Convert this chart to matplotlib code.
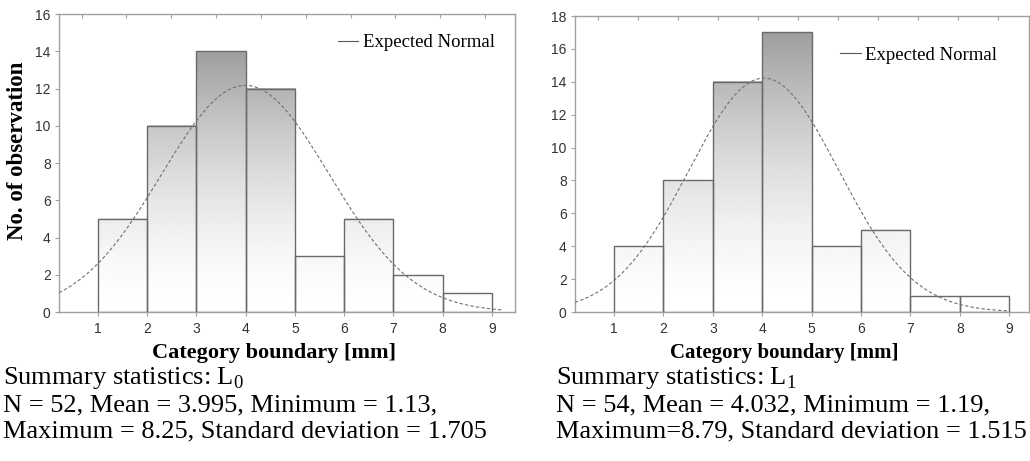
import numpy as np
import matplotlib
matplotlib.use("Agg")
import matplotlib.pyplot as plt
from matplotlib.lines import Line2D

plt.rcParams['mathtext.fontset'] = 'custom'
plt.rcParams['mathtext.rm'] = 'Liberation Serif'

# ---- data ----
bin_left = [1, 2, 3, 4, 5, 6, 7, 8]
counts_L0 = [5, 10, 14, 12, 3, 5, 2, 1]
counts_L1 = [4, 8, 14, 17, 4, 5, 1, 1]
x_ticks = [1, 2, 3, 4, 5, 6, 7, 8, 9]
stats_L0 = dict(N=52, mean=3.995, sd=1.705)
stats_L1 = dict(N=54, mean=4.032, sd=1.515)
curve_end_L0 = 9.2
curve_end_L1 = 9.0
text_L0 = ["Summary statistics: L$_{\\mathrm{0}}$",
           "N = 52, Mean = 3.995, Minimum = 1.13,",
           "Maximum = 8.25, Standard deviation = 1.705"]
text_L1 = ["Summary statistics: L$_{\\mathrm{1}}$",
           "N = 54, Mean = 4.032, Minimum = 1.19,",
           "Maximum=8.79, Standard deviation = 1.515"]

W, H = 1030, 461
fig = plt.figure(figsize=(W / 100, H / 100), dpi=100)

def px_axes(x0, x1, y0, y1):
    return fig.add_axes([x0 / W, 1 - y1 / H, (x1 - x0) / W, (y1 - y0) / H])

SERIF = 'Liberation Serif'
SANS = 'Liberation Sans'

def draw(ax, counts, stats, xlim, ymax, curve_end, legend_xy, xlabel_x,
         xlabel_size, ylabel, top_step):
    width = 1.0
    maxc = max(counts)
    # gradient fill per bar
    for l, c in zip(bin_left, counts):
        yy = np.linspace(0, c, 200)
        g = 1 - 0.38 * (yy / maxc) ** 1.6
        img = np.repeat(g[:, None], 2, axis=1)
        ax.imshow(img, cmap='gray', vmin=0, vmax=1, origin='lower',
                  extent=[l, l + width, 0, c], aspect='auto',
                  interpolation='bilinear', zorder=1)
    ax.bar(bin_left, counts, width=width, align='edge', facecolor='none',
           edgecolor='#6a6a6a', linewidth=1.0, zorder=2)
    # expected normal
    xs = np.linspace(xlim[0], curve_end, 400)
    ys = stats['N'] * width / (stats['sd'] * np.sqrt(2 * np.pi)) * \
        np.exp(-0.5 * ((xs - stats['mean']) / stats['sd']) ** 2)
    ax.plot(xs, ys, color='#707070', lw=0.8, ls=(0, (3, 2)), zorder=3)
    ax.set_xlim(*xlim)
    ax.set_ylim(0, ymax)
    ax.set_xticks(x_ticks)
    ax.set_yticks(np.arange(0, ymax + 1, 2))
    for s in ax.spines.values():
        s.set_color('#a0a0a0')
        s.set_linewidth(1.0)
    ax.tick_params(axis='both', colors='#a0a0a0', labelcolor='#333333',
                   length=3, width=0.8, labelsize=10)
    ax.tick_params(axis='x', pad=4)
    ax.tick_params(axis='y', pad=3)
    for lab in ax.get_xticklabels() + ax.get_yticklabels():
        lab.set_fontfamily(SANS)
    sec = ax.secondary_xaxis('top')
    sec.set_xticks(np.arange(0.67, xlim[1], top_step))
    sec.tick_params(direction='in', length=3, width=0.8, colors='#a0a0a0',
                    labeltop=False)
    sec.spines['top'].set_visible(False)
    h = Line2D([], [], color='#555555', lw=0.8)
    ax.legend([h], ['Expected Normal'], loc='center right',
              bbox_to_anchor=legend_xy, frameon=False, borderaxespad=0,
              borderpad=0, handlelength=1.1, handletextpad=0.25,
              prop=dict(family=SERIF, size=13.5))
    ax.set_xlabel('Category boundary [mm]', family=SERIF, fontweight='bold',
                  fontsize=xlabel_size)
    ax.xaxis.set_label_coords(xlabel_x, -0.154)
    ax.xaxis.label.set_va('baseline')
    if ylabel:
        ax.set_ylabel(ylabel, family=SERIF, fontweight='bold', fontsize=16.5)
        ax.yaxis.set_label_coords(-0.09, 0.54)
        ax.yaxis.label.set_va('center')

ax1 = px_axes(59, 515, 14, 312)
draw(ax1, counts_L0, stats_L0, (0.21, 9.47), 16, curve_end_L0,
     (0.956, 0.903), 0.4715, 16, 'No. of observation', 0.91)
ax2 = px_axes(575, 1029, 16, 312)
draw(ax2, counts_L1, stats_L1, (0.21, 9.40), 18, curve_end_L1,
     (0.93, 0.868), 0.46, 15, None, 0.81)

for i, (a, b) in enumerate(zip(text_L0, text_L1)):
    yb = [384, 411, 437][i]
    fig.text(3 / W, 1 - yb / H, a, family=SERIF, fontsize=19, va='baseline',
             ha='left', color='black')
    fig.text(556 / W, 1 - yb / H, b, family=SERIF, fontsize=19, va='baseline',
             ha='left', color='black')

fig.savefig('out.png', dpi=100)
